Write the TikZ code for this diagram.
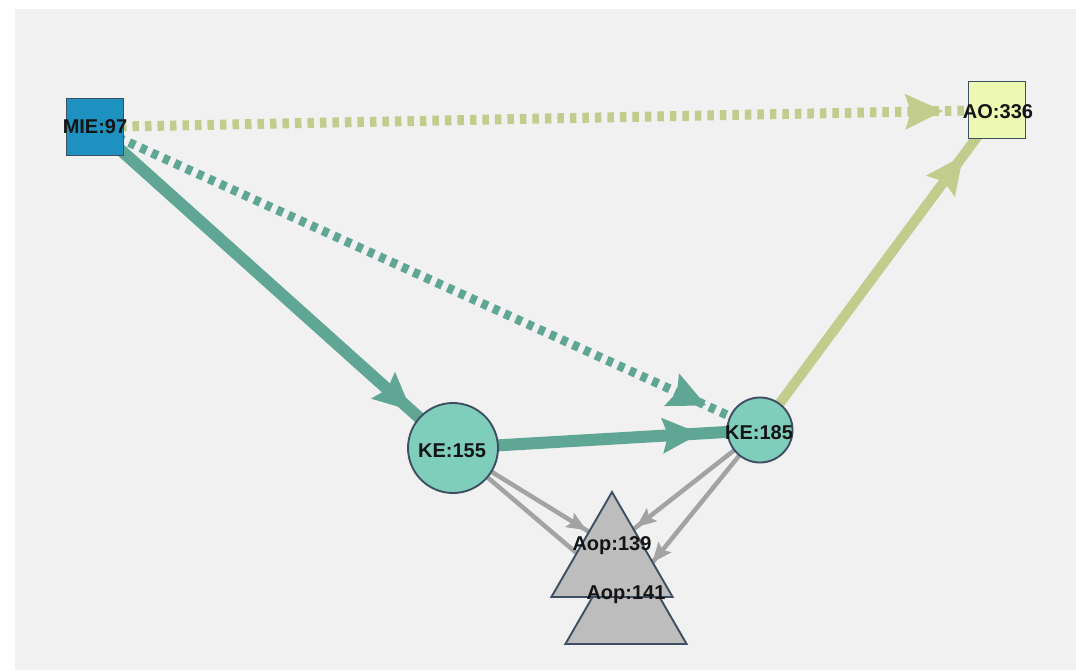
\documentclass[tikz,border=0pt]{standalone}
\usepackage{fontspec}
\setmainfont{Liberation Sans}
\usetikzlibrary{shapes.geometric,decorations.markings}

\definecolor{panel}{HTML}{F1F1F1}
\definecolor{miefill}{HTML}{1D91C0}
\definecolor{aofill}{HTML}{EDF8B1}
\definecolor{kefill}{HTML}{7FCDBB}
\definecolor{aopfill}{HTML}{BDBDBD}
\definecolor{rim}{HTML}{3E4F63}
\definecolor{tealedge}{HTML}{60A694}
\definecolor{yglink}{HTML}{C2CC8C}
\definecolor{greyedge}{HTML}{A3A3A3}

\pgfdeclarelayer{backdrop}
\pgfdeclarelayer{links}
\pgfsetlayers{backdrop,links,main}

\tikzset{
  shapebase/.style={draw=rim, line width=1.9pt, inner sep=0pt, outer sep=0pt},
  sqnode/.style={shapebase, rectangle, minimum size=57pt},
  kenode/.style={shapebase, circle},
  aopnode/.style={shapebase, fill=aopfill, regular polygon, regular polygon sides=3, minimum size=140pt},
  lbl/.style={font=\fontsize{20}{23}\selectfont\bfseries, text=black!92, inner sep=0pt},
  dotline/.style={dash pattern=on 6.5pt off 6pt},
  bighead/.style 2 args={postaction={decorate, decoration={markings,
      mark=at position -#1 with {\fill[#2] (0pt,0pt) -- (-38pt,18pt) -- (-32pt,0pt) -- (-38pt,-18pt) -- cycle;}}}},
  smallhead/.style={postaction={decorate, decoration={markings,
      mark=at position -#1 with {\fill[greyedge] (0pt,0pt) -- (-20pt,8.5pt) -- (-16pt,0pt) -- (-20pt,-8.5pt) -- cycle;}}}},
  greylink/.style={draw=greyedge, line width=4.5pt},
}

\begin{document}
\begin{tikzpicture}[x=1pt,y=-1pt]
\useasboundingbox (0,0) rectangle (1076,670);
\begin{pgfonlayer}{backdrop}
  \fill[white] (0,0) rectangle (1076,670);
  \fill[panel] (15,9) rectangle (1076,670);
\end{pgfonlayer}

% nodes
\node[sqnode, fill=miefill] (mie) at (95,127) {};
\node[sqnode, fill=aofill] (ao) at (997,110) {};
\node[kenode, fill=kefill, minimum size=90pt] (ke155) at (453,448) {};
\node[kenode, fill=kefill, minimum size=65pt] (ke185) at (760,430) {};
\node[aopnode] (aop141) at (626,609) {};
\node[aopnode] (aop139) at (612,562) {};

% labels
\node[lbl] (miel) at (95,127) {MIE:97};
\node[lbl] (aol) at (998,112) {AO:336};
\node[lbl] (ke155l) at (452,451) {KE:155};
\node[lbl] (ke185l) at (759,433) {KE:185};
\node[lbl] (aop139l) at (612,546) {Aop:139};
\node[lbl] (aop141l) at (626,595) {Aop:141};

% connectors
\begin{pgfonlayer}{links}
  \draw[draw=yglink, line width=10pt, dotline, bighead={54pt}{yglink}] (mie.center) -- (ao.center);
  \draw[draw=tealedge, line width=9pt, dotline, bighead={59pt}{tealedge}] (mie.center) -- (ke185.center);
  \draw[draw=tealedge, line width=12pt, bighead={56pt}{tealedge}] (mie.center) -- (ke155.center);
  \draw[draw=tealedge, line width=12pt, bighead={60pt}{tealedge}] (ke155.center) -- (ke185.center);
  \draw[draw=yglink, line width=10pt, bighead={57pt}{yglink}] (ke185.center) -- (ao.center);
  \draw[greylink, smallhead=30pt] (ke155.center) -- (aop139l.center);
  \draw[greylink, smallhead=32pt] (ke155.center) -- (aop141l.center);
  \draw[greylink, smallhead=31pt] (ke185.center) -- (aop139l.center);
  \draw[greylink, smallhead=42pt] (ke185.center) -- (aop141l.center);
\end{pgfonlayer}
\end{tikzpicture}
\end{document}
